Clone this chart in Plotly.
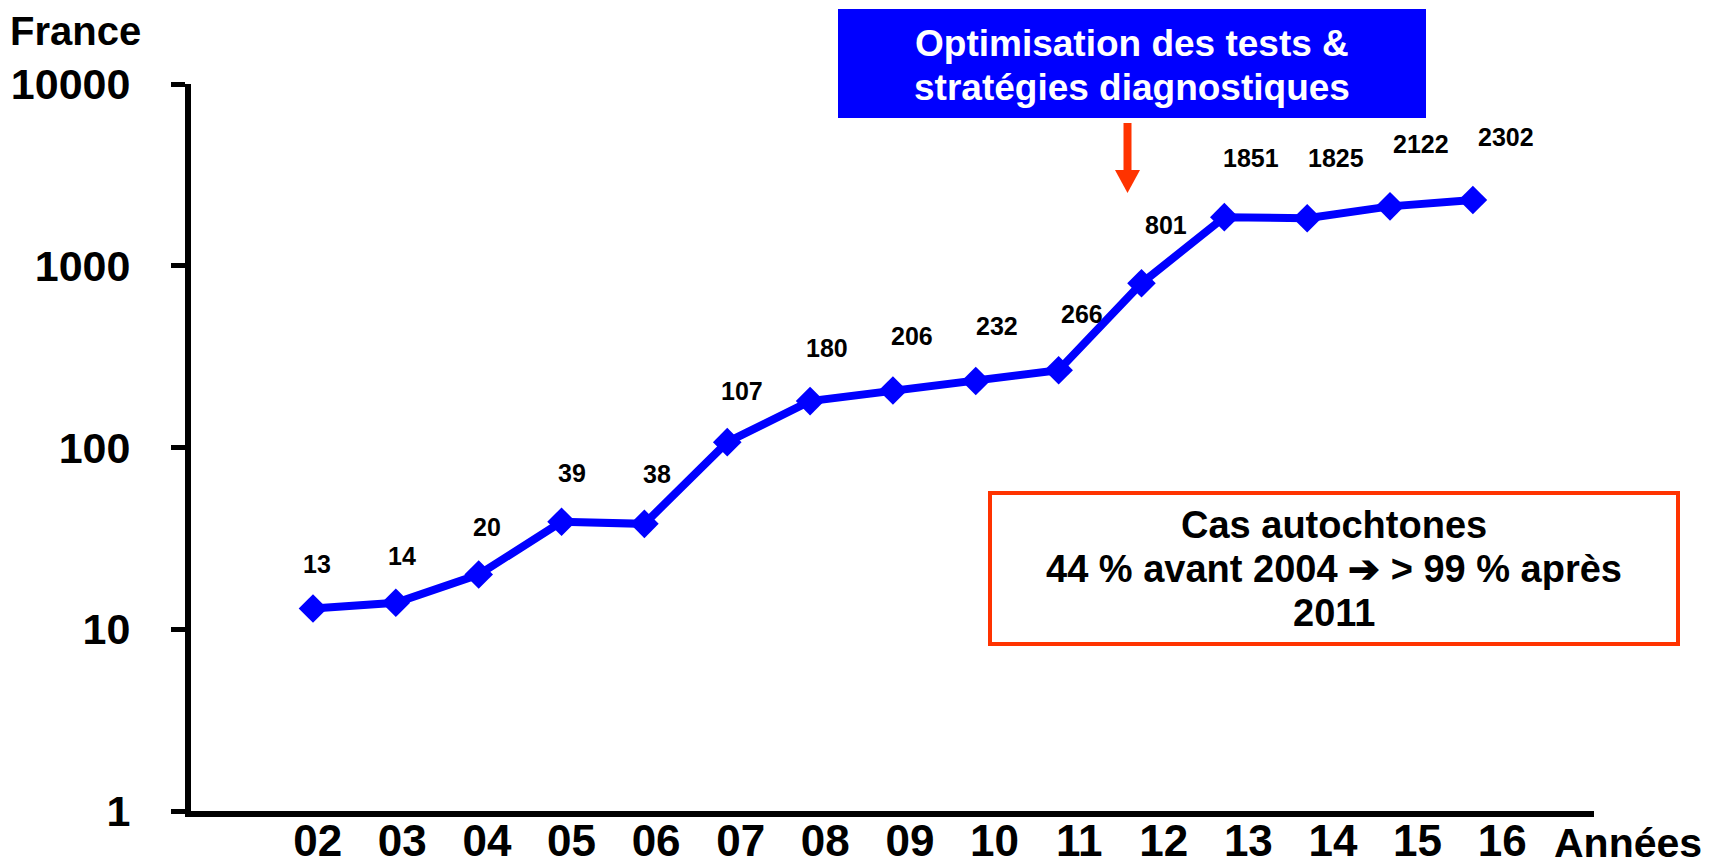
import plotly.graph_objects as go
import math

# ---- data ----
years = [2, 3, 4, 5, 6, 7, 8, 9, 10, 11, 12, 13, 14, 15, 16]
year_labels = ["02", "03", "04", "05", "06", "07", "08", "09", "10", "11", "12", "13", "14", "15", "16"]
cases = [13, 14, 20, 39, 38, 107, 180, 206, 232, 266, 801, 1851, 1825, 2122, 2302]
y_tickvals = [1, 10, 100, 1000, 10000]
y_ticktext = ["1", "10", "100", "1000", "10000"]

# ---- layout geometry (pixels) ----
W, H = 1711, 863
OFF = 8                      # page offset of the plot div (body margin)
L, R, T, B = 183, 125, 76, 60
PW, PH = W - L - R, H - T - B
X_RANGE = [years[0] - 1.4725, years[-1] + 1.462]

# year labels sit on a slightly stretched, shifted scale (as in the original slide)
LABEL_STRETCH = 1.0212
LABEL_SHIFT = 17             # px, at the middle year
unit = PW / (X_RANGE[1] - X_RANGE[0])
mid = years[len(years) // 2]
mid_px = (mid - X_RANGE[0]) * unit + LABEL_SHIFT
unit2 = unit * LABEL_STRETCH
x2_lo = mid - mid_px / unit2
X2_RANGE = [x2_lo, x2_lo + PW / unit2]


def xs(px):
    """screen x (px) -> paper"""
    return (px - OFF - L) / PW


def ys(py):
    """screen y (px) -> paper"""
    return (T + PH - (py - OFF)) / PH


FONT = "Arial, Liberation Sans, sans-serif"
BLUE = "#0000FF"
RED = "#FF3300"

fig = go.Figure()
fig.add_trace(go.Scatter(
    x=years, y=cases, mode="lines+markers",
    line=dict(color=BLUE, width=8),
    marker=dict(symbol="diamond", size=22, color=BLUE),
    hoverinfo="x+y",
))
# empty trace that only registers the year-label axis
fig.add_trace(go.Scatter(x=[], y=[], xaxis="x2", yaxis="y",
                         mode="markers", hoverinfo="skip", showlegend=False))

annotations = []
for i, (xv, v) in enumerate(zip(years, cases)):
    annotations.append(dict(
        x=xv, y=math.log10(v), xref="x", yref="y",
        text=str(v), showarrow=False,
        xshift=4 + 2.1 * i, yshift=45 + 1.3 * i,
        font=dict(family=FONT, size=25, color="black", weight="bold"),
        xanchor="center", yanchor="middle",
    ))


def text_at(x, y, s, size, color="black", xanchor="center", yanchor="middle"):
    annotations.append(dict(
        x=xs(x), y=ys(y), xref="paper", yref="paper", text=s,
        showarrow=False, xanchor=xanchor, yanchor=yanchor, borderpad=0,
        font=dict(family=FONT, size=size, color=color, weight="bold"),
    ))


text_at(9, OFF + 0.5, "France", 40, xanchor="left", yanchor="top")
text_at(1703, 843, "Années", 41, xanchor="right")
text_at(1132, 43.5, "Optimisation des tests &", 37, color="white")
text_at(1132, 87, "stratégies diagnostiques", 37, color="white")
text_at(1334, 525, "Cas autochtones", 38)
text_at(1334, 568.5, "44 % avant 2004 ➔ > 99 % après", 38)
text_at(1334, 613, "2011", 38)

shapes = [
    dict(type="rect", xref="paper", yref="paper",
         x0=xs(838), x1=xs(1426), y0=ys(9), y1=ys(118),
         fillcolor=BLUE, line=dict(width=0), layer="above"),
    dict(type="rect", xref="paper", yref="paper",
         x0=xs(990), x1=xs(1678), y0=ys(493), y1=ys(644),
         fillcolor="rgba(0,0,0,0)", line=dict(color=RED, width=4)),
    dict(type="line", xref="paper", yref="paper",
         x0=xs(1127.5), x1=xs(1127.5), y0=ys(123), y1=ys(172),
         line=dict(color=RED, width=8)),
    dict(type="path", xref="paper", yref="paper",
         path=f"M {xs(1115)} {ys(170)} L {xs(1140)} {ys(170)} L {xs(1127.5)} {ys(193)} Z",
         fillcolor=RED, line=dict(width=0)),
]

fig.update_layout(
    width=W, height=H,
    margin=dict(l=L, r=R, t=T, b=B, pad=0),
    paper_bgcolor="white", plot_bgcolor="white",
    showlegend=False,
    annotations=annotations,
    shapes=shapes,
    xaxis=dict(
        range=X_RANGE, automargin=False,
        showticklabels=False, ticks="", showgrid=False, zeroline=False,
        showline=True, linecolor="black", linewidth=6,
    ),
    xaxis2=dict(
        range=X2_RANGE, overlaying="x", anchor="y", side="bottom",
        automargin=False,
        tickmode="array", tickvals=years, ticktext=year_labels,
        ticks="", ticklen=0, showgrid=False, zeroline=False, showline=False,
        ticklabelstandoff=0,
        tickfont=dict(family=FONT, size=44, color="black", weight="bold"),
    ),
    yaxis=dict(
        type="log", range=[0, 4], automargin=False,
        tickmode="array", tickvals=y_tickvals, ticktext=y_ticktext,
        ticks="outside", ticklen=14, tickwidth=5, tickcolor="black",
        showgrid=False, zeroline=False,
        showline=True, linecolor="black", linewidth=6,
        ticklabelstandoff=32,
        tickfont=dict(family=FONT, size=43, color="black", weight="bold"),
    ),
)

fig.write_html("out.html")
